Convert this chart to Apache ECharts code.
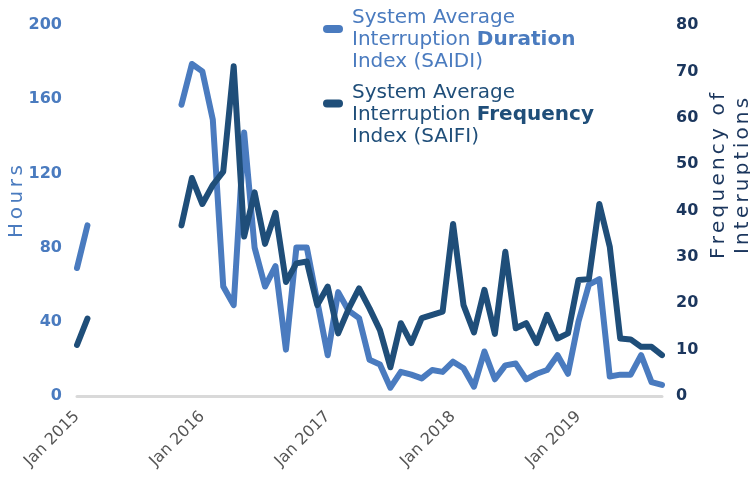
<!DOCTYPE html>
<html>
<head>
<meta charset="utf-8">
<script src="https://cdn.jsdelivr.net/npm/echarts@6/dist/echarts.min.js"></script>
<style>
html,body{margin:0;padding:0;background:#fff;}
#chart{width:750px;height:478px;}
</style>
</head>
<body>
<div id="chart"></div>
<script>
// ---- data ----
var monthNames = ['Jan','Feb','Mar','Apr','May','Jun','Jul','Aug','Sep','Oct','Nov','Dec'];
var years = [2015, 2016, 2017, 2018, 2019];
var lastMonthIndex2019 = 8; // Sep 2019

// SAIDI (hours), monthly Jan 2015 - Sep 2019
var saidi = [
  69, 92, null, null, null, null, null, null, null, null, 157, 179,
  175, 149, 59, 49, 142, 80, 59, 70, 25, 80, 80, 51,
  22, 56, 46, 42, 19.5, 17, 4.5, 13, 11.5, 9.5, 14, 13,
  18.5, 15, 5, 24, 9, 16.5, 17.5, 9, 12, 14, 22, 12,
  40, 60, 63, 10.5, 11.5, 11.5, 22, 7.5, 6
];
// SAIFI (frequency of interruptions)
var saifi = [
  11, 16.7, null, null, null, null, null, null, null, null, 36.8, 47,
  41.4, 45.5, 48.4, 71.1, 34.4, 43.9, 32.8, 39.5, 24.6, 28.6, 29, 19.6,
  23.6, 13.5, 18.8, 23.2, 18.9, 14.2, 6.2, 15.7, 11.4, 16.8, 17.5, 18.2,
  37.1, 19.6, 13.7, 22.9, 13.4, 31.1, 14.6, 15.7, 11.4, 17.5, 12.4, 13.5,
  25, 25.2, 41.4, 32.2, 12.4, 12.2, 10.6, 10.6, 8.8
];
var leftTicks = {min: 0, max: 200, interval: 40};
var rightTicks = {min: 0, max: 80, interval: 10};
var leftAxisName = 'Hours';
var rightAxisName = ['Frequency of', 'Interuptions'];
var saidiName = 'System Average Interruption Duration Index (SAIDI)';
var saifiName = 'System Average Interruption Frequency Index (SAIFI)';

var categories = [];
years.forEach(function (y) {
  monthNames.forEach(function (m, i) {
    if (y < 2019 || i <= lastMonthIndex2019) categories.push(m + ' ' + y);
  });
});

// ---- styling ----
var BLUE = '#4a7bbf';
var NAVY = '#1f4e79';
var NAVY_TXT = '#1b365d';
var FONT = 'DejaVu Sans';

function spaced(str) {
  return str.split('').map(function (c) { return '{s|' + c + '}'; }).join('');
}

var capsule = 'path://M4,0 L16,0 A4,4 0 0 1 16,8 L4,8 A4,4 0 0 1 4,0 Z';

function legendFor(name, color, bold, top) {
  return {
    data: [{name: name, icon: capsule, itemStyle: {color: color}}],
    orient: 'vertical',
    left: 323,
    top: top,
    padding: 0,
    itemWidth: 20,
    itemHeight: 8,
    textStyle: {
      fontFamily: FONT,
      fontSize: 20,
      lineHeight: 22,
      color: color,
      padding: [22, 0, 0, 4],
      rich: {
        a: {fontFamily: FONT, fontSize: 20, lineHeight: 22, color: color},
        b: {fontFamily: FONT, fontSize: 20, lineHeight: 22, color: color, fontWeight: 'bold'}
      }
    },
    formatter: function () {
      return '{a|System Average}\n{a|Interruption }{b|' + bold + '}\n{a|Index (' + (bold === 'Duration' ? 'SAIDI' : 'SAIFI') + ')}';
    }
  };
}

var chart = echarts.init(document.getElementById('chart'), null, {renderer: 'canvas'});
chart.setOption({
  animation: false,
  backgroundColor: '#fff',
  grid: {left: 77, right: 88, top: 25, bottom: 82, containLabel: false, outerBoundsMode: 'none'},
  legend: [
    legendFor(saidiName, BLUE, 'Duration', -15),
    legendFor(saifiName, NAVY, 'Frequency', 59.5)
  ],
  xAxis: {
    type: 'category',
    data: categories,
    boundaryGap: false,
    axisLine: {lineStyle: {color: '#d9d9d9', width: 3}},
    axisTick: {show: false},
    splitLine: {show: false},
    axisLabel: {
      interval: function (i) { return i % 12 === 0; },
      rotate: 45,
      margin: 18,
      color: '#555555',
      fontFamily: FONT,
      fontSize: 16
    }
  },
  yAxis: [
    {
      type: 'value',
      position: 'left',
      min: leftTicks.min, max: leftTicks.max, interval: leftTicks.interval,
      axisLine: {show: false},
      axisTick: {show: false},
      splitLine: {show: false},
      axisLabel: {color: BLUE, fontFamily: FONT, fontSize: 16, fontWeight: 'bold', margin: 15},
      name: spaced(leftAxisName),
      nameLocation: 'middle',
      nameRotate: 90,
      nameGap: 48,
      nameMoveOverlap: false,
      nameTextStyle: {
        padding: [0, 0, 0, 18],
        rich: {s: {fontFamily: FONT, fontSize: 20, color: BLUE, padding: [0, 1.8, 0, 1.8], lineHeight: 24}}
      }
    },
    {
      type: 'value',
      position: 'right',
      min: rightTicks.min, max: rightTicks.max, interval: rightTicks.interval,
      axisLine: {show: false},
      axisTick: {show: false},
      splitLine: {show: false},
      axisLabel: {color: NAVY_TXT, fontFamily: FONT, fontSize: 16, fontWeight: 'bold', margin: 14},
      name: spaced(rightAxisName[0]) + '\n' + spaced(rightAxisName[1]),
      nameLocation: 'middle',
      nameRotate: 90,
      nameGap: 45,
      nameMoveOverlap: false,
      nameTextStyle: {
        padding: [0, 0, 0, 69],
        rich: {s: {fontFamily: FONT, fontSize: 20, color: NAVY_TXT, padding: [0, 1.6, 0, 1.6], lineHeight: 24}}
      }
    }
  ],
  series: [
    {
      name: saidiName,
      type: 'line',
      yAxisIndex: 0,
      data: saidi,
      showSymbol: false,
      connectNulls: false,
      itemStyle: {color: BLUE},
      lineStyle: {color: BLUE, width: 6, cap: 'round', join: 'round'}
    },
    {
      name: saifiName,
      type: 'line',
      yAxisIndex: 1,
      data: saifi,
      showSymbol: false,
      connectNulls: false,
      itemStyle: {color: NAVY},
      lineStyle: {color: NAVY, width: 6, cap: 'round', join: 'round'}
    }
  ]
});
</script>
</body>
</html>
